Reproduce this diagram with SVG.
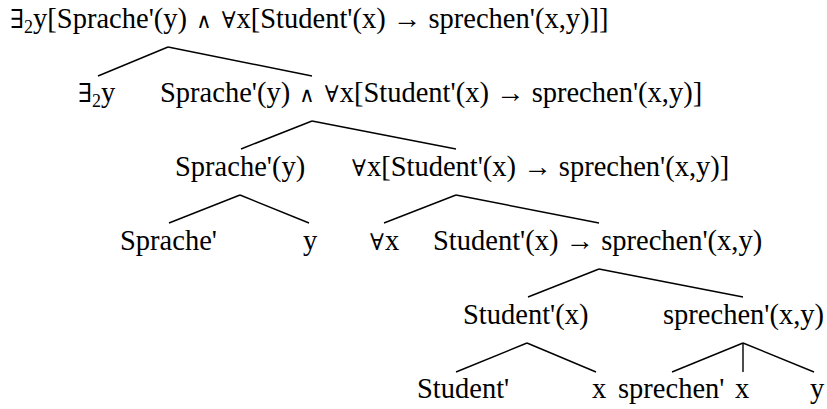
<svg xmlns="http://www.w3.org/2000/svg" width="827" height="409" viewBox="0 0 827 409">
<style>
text { font-family: "Liberation Serif", "DejaVu Serif", serif; font-size: 28.5px; fill: #000; }
.sub { font-size: 18px; }
.ex { font-size: 26px; }
.all { font-size: 23px; }
.and { font-size: 21px; }
#connectors line { stroke: #000; stroke-width: 1.4; stroke-linecap: butt; }
</style>
<rect width="827" height="409" fill="#fff"/>
<g id="connectors">
<line x1="168" y1="47" x2="98" y2="76"/>
<line x1="168" y1="47" x2="312" y2="76"/>
<line x1="312" y1="121" x2="241" y2="149"/>
<line x1="312" y1="121" x2="456" y2="149"/>
<line x1="240" y1="195" x2="169" y2="223"/>
<line x1="240" y1="195" x2="309" y2="223"/>
<line x1="456" y1="195" x2="384" y2="223"/>
<line x1="456" y1="195" x2="599" y2="223"/>
<line x1="599" y1="269" x2="528" y2="297"/>
<line x1="599" y1="269" x2="743" y2="297"/>
<line x1="527" y1="343" x2="456" y2="372"/>
<line x1="527" y1="343" x2="596" y2="372"/>
<line x1="743" y1="343" x2="672" y2="372"/>
<line x1="743" y1="343" x2="743" y2="372"/>
<line x1="743" y1="343" x2="814" y2="372"/>
</g>
<g id="n1"><text x="10" y="28"><tspan class="ex">∃</tspan><tspan class="sub" dy="5">2</tspan><tspan dy="-5">y[Sprache'(y) </tspan><tspan class="and" dx="2">∧</tspan><tspan dx="2"> </tspan><tspan class="all" dx="1">∀</tspan><tspan dx="1">x[Student'(x) → sprechen'(x,y)]]</tspan></text></g>
<g id="n2"><text x="78" y="102"><tspan class="ex">∃</tspan><tspan class="sub" dy="5">2</tspan><tspan dy="-5">y</tspan></text></g>
<g id="n3"><text x="160" y="102">Sprache'(y) <tspan class="and" dx="2">∧</tspan><tspan dx="2"> </tspan><tspan class="all" dx="1">∀</tspan><tspan dx="1">x[Student'(x) → sprechen'(x,y)]</tspan></text></g>
<g id="n4"><text x="175" y="176">Sprache'(y)</text></g>
<g id="n5"><text x="352" y="176"><tspan class="all">∀</tspan><tspan dx="1">x[Student'(x) → sprechen'(x,y)]</tspan></text></g>
<g id="n6"><text x="120" y="250">Sprache'</text></g>
<g id="n7"><text x="303" y="250">y</text></g>
<g id="n8"><text x="370" y="250"><tspan class="all">∀</tspan><tspan dx="1">x</tspan></text></g>
<g id="n9"><text x="433" y="250">Student'(x) → sprechen'(x,y)</text></g>
<g id="n10"><text x="463" y="324">Student'(x)</text></g>
<g id="n11"><text x="663" y="324">sprechen'(x,y)</text></g>
<g id="n12"><text x="417" y="398">Student'</text></g>
<g id="n13"><text x="592" y="398">x</text></g>
<g id="n14"><text x="618" y="398">sprechen'</text></g>
<g id="n15"><text x="735" y="398">x</text></g>
<g id="n16"><text x="810" y="398">y</text></g>
</svg>
